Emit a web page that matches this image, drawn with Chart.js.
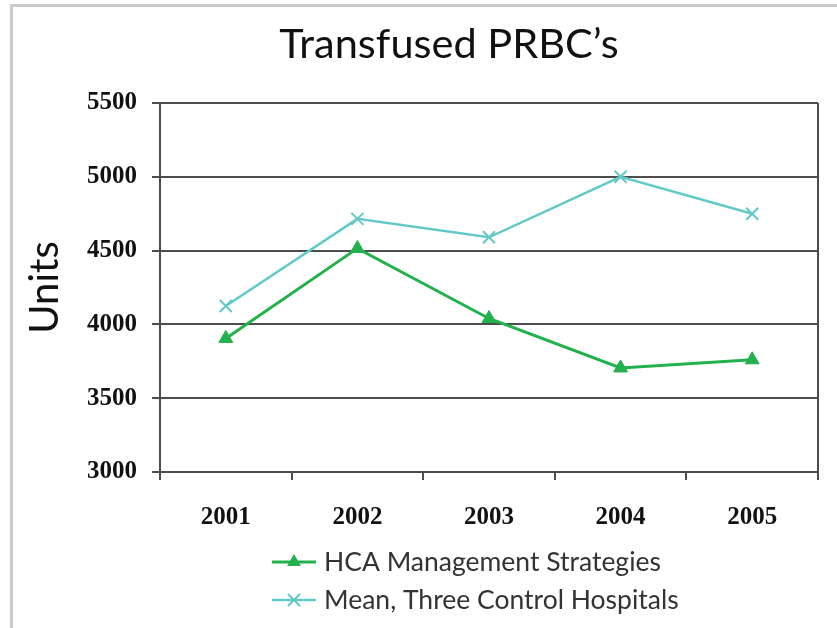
<!DOCTYPE html>
<html>
<head>
<meta charset="utf-8">
<title>Transfused PRBC's</title>
<script src="https://cdn.jsdelivr.net/npm/chart.js@4.4.1/dist/chart.umd.min.js"></script>
<style>
  body { margin: 0; background: #fff; }
</style>
</head>
<body>
<canvas id="chart1" width="837" height="628"></canvas>
<script>
// chart data
const chartTitle = 'Transfused PRBC\u2019s';
const years = ['2001', '2002', '2003', '2004', '2005'];
const hcaUnits = [3905, 4515, 4040, 3705, 3760];
const controlUnits = [4125, 4715, 4590, 5000, 4750];
const seriesNames = ['HCA Management Strategies', 'Mean, Three Control Hospitals'];
const yTicks = [3000, 3500, 4000, 4500, 5000, 5500];

const green = '#22b14c';
const cyan = '#62c9c9';
const axisColor = '#4d4d4d';

// grey frame, title text, right edge of plot box
const framePlugin = {
    id: 'frame',
    beforeDraw(chart) {
        const ctx = chart.ctx;
        ctx.save();
        ctx.strokeStyle = '#cbcbcb';
        ctx.lineWidth = 3;
        ctx.beginPath();
        ctx.moveTo(11.5, chart.height);
        ctx.lineTo(11.5, 5.5);
        ctx.lineTo(chart.width, 5.5);
        ctx.stroke();

        ctx.fillStyle = '#111';
        ctx.font = '41.5px Lato';
        ctx.textAlign = 'center';
        ctx.textBaseline = 'middle';
        ctx.fillText(chartTitle, 449, 45);
        ctx.restore();
    },
    beforeDatasetsDraw(chart) {
        const a = chart.chartArea;
        const ctx = chart.ctx;
        ctx.save();
        ctx.strokeStyle = axisColor;
        ctx.lineWidth = 2;
        ctx.beginPath();
        ctx.moveTo(a.right, a.top);
        ctx.lineTo(a.right, a.bottom);
        ctx.stroke();
        ctx.restore();
    }
};

// legend stacked in two rows under the axis
const legendPlugin = {
    id: 'stackLegend',
    afterDraw(chart) {
        const ctx = chart.ctx;
        const a = chart.chartArea;
        ctx.save();
        chart.data.datasets.forEach((ds, i) => {
            const y = a.bottom + 90 + i * 38;
            const x0 = 272, x1 = 316, cx = (x0 + x1) / 2;
            ctx.strokeStyle = ds.borderColor;
            ctx.fillStyle = ds.borderColor;
            ctx.lineWidth = ds.borderWidth;
            ctx.beginPath();
            ctx.moveTo(x0, y);
            ctx.lineTo(x1, y);
            ctx.stroke();
            const r = ds.pointRadius;
            ctx.beginPath();
            if (ds.pointStyle === 'triangle') {
                ctx.moveTo(cx, y - r);
                ctx.lineTo(cx + r * 0.866, y + r / 2);
                ctx.lineTo(cx - r * 0.866, y + r / 2);
                ctx.closePath();
                ctx.fill();
            } else {
                const d = r * 0.707;
                ctx.lineWidth = ds.pointBorderWidth;
                ctx.moveTo(cx - d, y - d);
                ctx.lineTo(cx + d, y + d);
                ctx.moveTo(cx + d, y - d);
                ctx.lineTo(cx - d, y + d);
                ctx.stroke();
            }
            ctx.fillStyle = '#333';
            ctx.font = '26.5px Lato';
            ctx.textAlign = 'left';
            ctx.textBaseline = 'middle';
            ctx.fillText(ds.label, 324, y);
        });
        ctx.restore();
    }
};

const tickFont = { family: 'Liberation Serif', weight: 'bold', size: 25 };

const ctx1 = document.getElementById('chart1').getContext('2d');
const chart1 = new Chart(ctx1, {
    type: 'line',
    data: {
        labels: years,
        datasets: [{
            label: seriesNames[0],
            data: hcaUnits,
            borderColor: green,
            backgroundColor: green,
            borderWidth: 3,
            pointStyle: 'triangle',
            pointRadius: 8,
            pointBorderWidth: 1,
            tension: 0
        }, {
            label: seriesNames[1],
            data: controlUnits,
            borderColor: cyan,
            backgroundColor: cyan,
            borderWidth: 2.5,
            pointStyle: 'crossRot',
            pointRadius: 8.5,
            pointBorderWidth: 2,
            tension: 0
        }]
    },
    options: {
        responsive: false,
        devicePixelRatio: 1,
        animation: false,
        layout: { padding: { left: 0, right: 19, top: 103, bottom: 100 } },
        plugins: {
            legend: { display: false },
            tooltip: { enabled: false },
            title: { display: false }
        },
        scales: {
            x: {
                offset: true,
                afterFit: s => { s.height = 56; },
                border: { display: true, color: axisColor, width: 2 },
                grid: { offset: true, drawOnChartArea: false, color: axisColor, lineWidth: 2, tickLength: 8 },
                ticks: { color: '#111', font: tickFont, padding: 23, maxRotation: 0 }
            },
            y: {
                min: yTicks[0],
                max: yTicks[yTicks.length - 1],
                afterBuildTicks: s => { s.ticks = yTicks.map(v => ({ value: v })); },
                afterFit: s => { s.width = 160; },
                border: { display: true, color: axisColor, width: 2 },
                grid: { color: axisColor, lineWidth: 2, tickLength: 8 },
                ticks: { color: '#111', font: tickFont, padding: 15, callback: v => String(v) },
                title: {
                    display: true,
                    text: 'Units',
                    color: '#111',
                    font: { family: 'Lato', size: 40 },
                    padding: { top: 21, bottom: 0 }
                }
            }
        }
    },
    plugins: [framePlugin, legendPlugin]
});
</script>
</body>
</html>
